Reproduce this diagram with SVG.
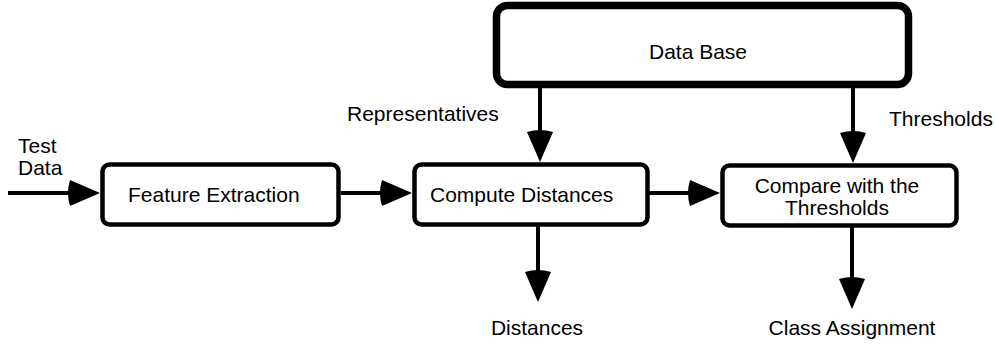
<svg xmlns="http://www.w3.org/2000/svg" xmlns:xlink="http://www.w3.org/1999/xlink" width="995" height="348" viewBox="0 0 995 348">
  <style>
    .box { fill: #fff; stroke: #000; stroke-width: 4.5; }
    .db { fill: #fff; stroke: #000; stroke-width: 7.5; }
    .wire { fill: none; stroke: #000; stroke-width: 4; }
    .head { fill: #000; }
    text { font-family: "Liberation Sans", Arial, sans-serif; font-size: 21px; fill: #000; }
  </style>
  <defs>
    <!-- filled arrowhead, tip at origin, pointing along +x -->
    <path id="ah" d="M0,0 L-30,-13 Q-34,0 -30,13 Z"/>
  </defs>

  <g id="connectors">
    <path class="wire" d="M8,193 H84"/>
    <use class="head" xlink:href="#ah" transform="translate(100,193)"/>

    <path class="wire" d="M341,193 H396"/>
    <use class="head" xlink:href="#ah" transform="translate(412,193)"/>

    <path class="wire" d="M648,193 H704"/>
    <use class="head" xlink:href="#ah" transform="translate(720,193)"/>

    <path class="wire" d="M540,88 V146"/>
    <use class="head" xlink:href="#ah" transform="translate(540,162) rotate(90)"/>

    <path class="wire" d="M853,88 V147"/>
    <use class="head" xlink:href="#ah" transform="translate(853,163) rotate(90)"/>

    <path class="wire" d="M538,226 V286"/>
    <use class="head" xlink:href="#ah" transform="translate(538,302) rotate(90)"/>

    <path class="wire" d="M852,227 V293"/>
    <use class="head" xlink:href="#ah" transform="translate(852,309) rotate(90)"/>
  </g>

  <g id="input-label">
    <text x="18" y="153">Test</text>
    <text x="18" y="175">Data</text>
  </g>

  <g id="feature-extraction">
    <rect class="box" x="102.5" y="164.5" width="236" height="60" rx="7"/>
    <text x="128" y="202">Feature Extraction</text>
  </g>

  <g id="compute-distances">
    <rect class="box" x="414.5" y="164.5" width="233" height="60" rx="7"/>
    <text x="430" y="202">Compute Distances</text>
  </g>

  <g id="compare-thresholds">
    <rect class="box" x="722.5" y="165.5" width="234" height="60" rx="7"/>
    <text x="837" y="193" text-anchor="middle">Compare with the</text>
    <text x="837" y="215" text-anchor="middle">Thresholds</text>
  </g>

  <g id="data-base">
    <rect class="db" x="496.5" y="5.5" width="412" height="79" rx="11"/>
    <text x="698" y="59" text-anchor="middle">Data Base</text>
  </g>

  <g id="edge-labels">
    <text x="347" y="121">Representatives</text>
    <text x="889" y="126">Thresholds</text>
    <text x="537" y="335" text-anchor="middle">Distances</text>
    <text x="852" y="335" text-anchor="middle">Class Assignment</text>
  </g>
</svg>
